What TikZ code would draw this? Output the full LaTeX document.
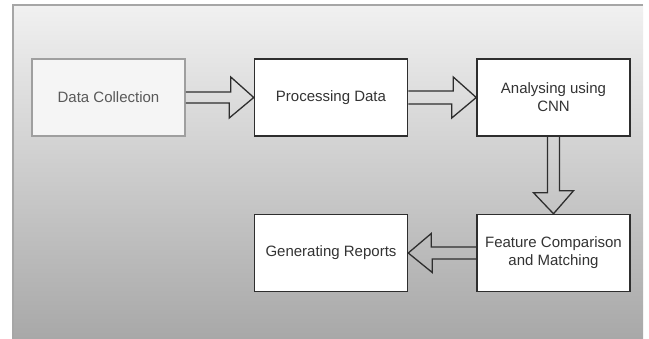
\documentclass[tikz,border=0pt]{standalone}
\usepackage{fontspec}
\setmainfont{Liberation Sans}
\usetikzlibrary{calc}
\definecolor{txt}{HTML}{333333}
\definecolor{edge}{HTML}{2E2E2E}
\tikzset{
  stepbox/.style={draw=edge, line width=1.5pt, fill=white, minimum width=153pt, minimum height=77pt,
    align=center, text=txt, font=\fontsize{15}{18}\selectfont, inner sep=2pt},
  firstbox/.style={stepbox, draw=gray!75, fill=black!4, text=black!65},
  barrow/.style={draw=edge, line width=1.3pt, line join=miter}
}
\begin{document}
\begin{tikzpicture}[x=1pt,y=-1pt]
\useasboundingbox (0,0) rectangle (649,339);
\fill[white] (0,0) rectangle (649,339);
\shade[top color={rgb,255:red,241;green,241;blue,241}, bottom color={rgb,255:red,168;green,168;blue,168}] (13,5) rectangle (643,339);
\draw[gray!70, line width=1.6pt] (13,339) -- (13,5) -- (643,5);

\node[firstbox] (dc) at (108.5,97.5) {Data Collection};
\node[stepbox] (pd) at (331,97.5) {Processing Data};
\node[stepbox] (an) at (553.5,97.5) {Analysing using\\CNN};
\node[stepbox] (fc) at (553.5,253) {Feature Comparison\\and Matching};
\node[stepbox] (gr) at (331,253) {Generating Reports};

\draw[barrow] ($(dc.east)+(0,-5.5)$) -- ++(45,0) -- ++(0,-15) -- (pd.west) -- ++(-24.5,20.5) -- ++(0,-15) -- ($(dc.east)+(0,5.5)$);
\draw[barrow] ($(pd.east)+(0,-6.5)$) -- ++(45,0) -- ++(0,-14) -- (an.west) -- ++(-24.5,20.5) -- ++(0,-14) -- ($(pd.east)+(0,6.5)$);
\draw[barrow] ($(an.south)+(-6,0)$) -- ++(0,56) -- ++(-14,0) -- (fc.north) -- ++(20,-23) -- ++(-14,0) -- ($(an.south)+(6,0)$);
\draw[barrow] ($(fc.west)+(0,-6)$) -- ++(-45,0) -- ++(0,-13.5) -- (gr.east) -- ++(24,19.5) -- ++(0,-13.5) -- ($(fc.west)+(0,6)$);
\end{tikzpicture}
\end{document}
